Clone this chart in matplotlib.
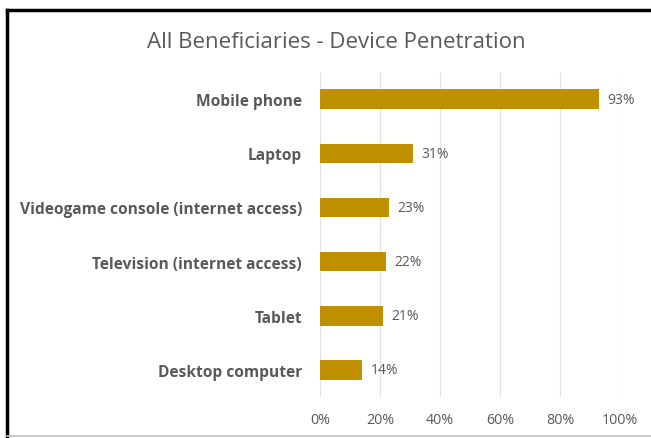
import matplotlib
matplotlib.use("Agg")
import matplotlib.pyplot as plt
from matplotlib.lines import Line2D

categories = ["Mobile phone", "Laptop", "Videogame console (internet access)",
              "Television (internet access)", "Tablet", "Desktop computer"]
values = [93, 31, 23, 22, 21, 14]
xticks = [0, 20, 40, 60, 80, 100]
xtick_labels = ["0%", "20%", "40%", "60%", "80%", "100%"]
title = "All Beneficiaries - Device Penetration"

W, H = 651, 439
fig = plt.figure(figsize=(W / 100, H / 100), dpi=100)
fig.patch.set_facecolor("white")

ax = fig.add_axes([320 / W, 1 - 398 / H, 300 / W, 325 / H])
ypos = list(range(len(categories)))
ax.barh(ypos, values, height=0.36, color="#BF9000", zorder=3)
ax.set_ylim(len(categories) - 0.5, -0.5)
ax.set_xlim(0, 100)
ax.set_xticks(xticks)
ax.set_xticklabels(xtick_labels, fontsize=10.3, color="#595959", family="Open Sans")
ax.set_yticks(ypos)
ax.set_yticklabels(categories, fontsize=11.2, fontweight="bold", color="#595959", family="Open Sans")
ax.tick_params(axis="both", length=0)
ax.tick_params(axis="x", pad=11)
ax.tick_params(axis="y", pad=13)
ax.grid(axis="x", color="#E3E3E3", linewidth=0.9, zorder=0)
for s in ax.spines.values():
    s.set_visible(False)

for y, v in zip(ypos, values):
    ax.annotate(f"{v}%", (v, y), xytext=(6, 0), textcoords="offset points",
                va="center", ha="left", fontsize=10, color="#595959", family="Open Sans")

fig.text(336 / W, 1 - 42 / H, title, ha="center", va="center", fontsize=16,
         color="#595959", family="Open Sans")

# frame around the chart area
fig.add_artist(Line2D([6.5 / W, 6.5 / W], [0, 1 - 11 / H], color="black", linewidth=2.5,
                      transform=fig.transFigure))
fig.add_artist(Line2D([6.5 / W, 1], [1 - 11 / H, 1 - 11 / H], color="black", linewidth=2.5,
                      transform=fig.transFigure))
fig.add_artist(Line2D([6.5 / W, 1], [1 - 437 / H, 1 - 437 / H], color="#BDBDBD", linewidth=1.2,
                      transform=fig.transFigure))

fig.savefig("out.png", dpi=100)
